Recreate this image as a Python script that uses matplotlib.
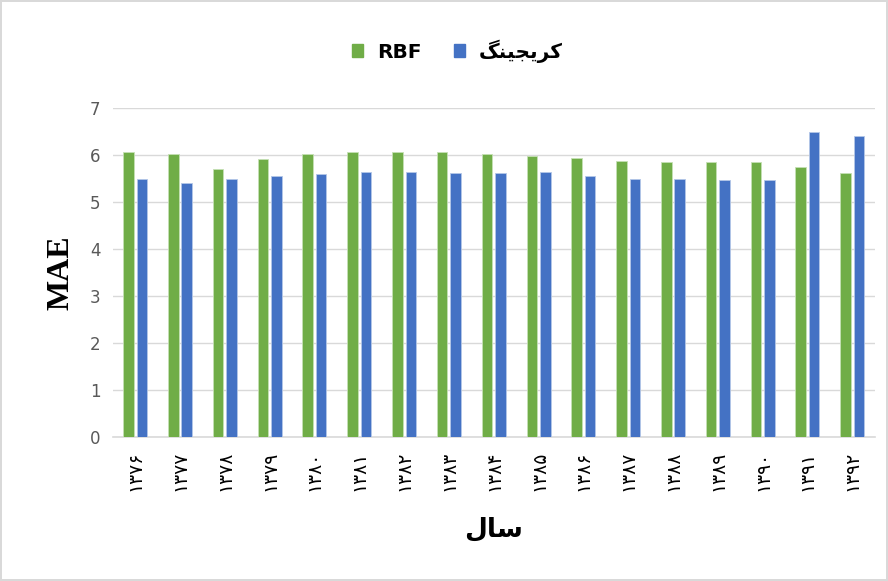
import numpy as np
import matplotlib.pyplot as plt
from matplotlib.patches import Patch

# سال‌ها (شمسی) و مقادیر MAE
years = list(range(1376, 1393))
rbf = [6.07, 6.02, 5.70, 5.91, 6.02, 6.07, 6.07, 6.07, 6.02, 5.99, 5.93, 5.88, 5.85, 5.85, 5.85, 5.74, 5.61]
kriging = [5.48, 5.40, 5.48, 5.55, 5.59, 5.63, 5.63, 5.61, 5.61, 5.63, 5.55, 5.50, 5.50, 5.47, 5.47, 6.50, 6.40]

green = '#70AD47'
blue = '#4472C4'

# Persian digits, Arabic text pre-shaped (presentation forms, visual order)
fa_digits = str.maketrans('0123456789', '۰۱۲۳۴۵۶۷۸۹')
year_labels = [str(y).translate(fa_digits) for y in years]
kriging_label = '\uFB93\uFEE8\uFBFF\uFEA0\uFBFE\uFEAE\uFB90'
year_axis_label = '\uFEDD\uFE8E\uFEB3'

fig = plt.figure(figsize=(8.88, 5.81), dpi=100)
fig.patch.set_edgecolor('#D9D9D9')
fig.patch.set_linewidth(1.5)
ax = fig.add_axes([0.127, 0.248, 0.858, 0.566])

x = np.arange(len(years))
w = 0.235
ax.bar(x - 0.15, rbf, width=w, color=green, edgecolor='#C5E0B4', linewidth=0.6, zorder=3)
ax.bar(x + 0.15, kriging, width=w, color=blue, edgecolor='#B4C7E7', linewidth=0.6, zorder=3)

ax.set_xlim(-0.5, len(years) - 0.5)
ax.set_ylim(0, 7)
ax.set_yticks(range(8))
ax.yaxis.grid(True, color='#D9D9D9', linewidth=1, zorder=0)
for s in ['top', 'right', 'left']:
    ax.spines[s].set_visible(False)
ax.spines['bottom'].set_color('#D9D9D9')
ax.spines['bottom'].set_linewidth(1.2)
ax.tick_params(axis='both', length=0)
ax.tick_params(axis='y', labelsize=12, labelcolor='#595959', pad=9)
ax.set_xticks(x)
ax.set_xticklabels(year_labels, rotation=90, fontsize=13.5, family=['DejaVu Sans'])
ax.tick_params(axis='x', pad=10)

ax.set_ylabel('MAE', family='Liberation Serif', fontweight='bold', fontsize=23, labelpad=10)
ax.set_xlabel(year_axis_label, family=['DejaVu Sans'], fontweight='bold', fontsize=19, labelpad=18)

handles = [Patch(color=green, label='RBF'), Patch(color=blue, label=kriging_label)]
leg = fig.legend(handles=handles, loc='center', bbox_to_anchor=(0.515, 0.912), ncol=2,
                 frameon=False, handlelength=0.55, handleheight=0.6,
                 columnspacing=1.6, handletextpad=0.7, prop={'weight': 'bold', 'size': 14.5})

fig.savefig('out.png', dpi=100)
